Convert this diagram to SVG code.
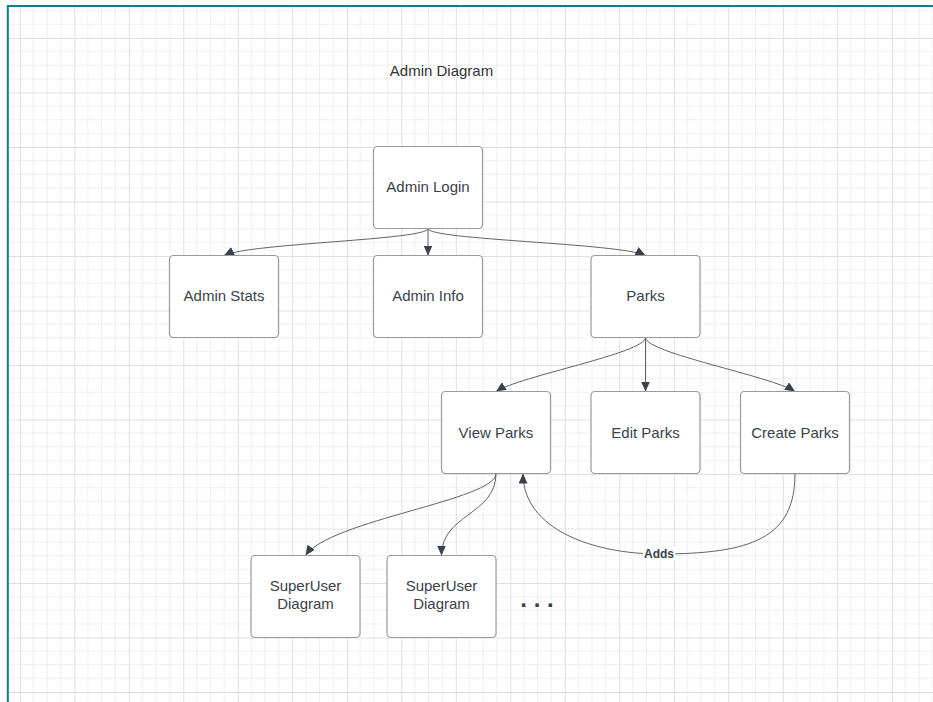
<svg xmlns="http://www.w3.org/2000/svg" width="933" height="702" viewBox="0 0 933 702">
  <defs>
    <pattern id="grid" patternUnits="userSpaceOnUse" x="19.8" y="-16.5" width="54.5" height="54.5">
      <path d="M13.625 0V54.5M27.25 0V54.5M40.875 0V54.5M0 13.625H54.5M0 27.25H54.5M0 40.875H54.5" stroke="#efefef" stroke-width="1" fill="none"/>
      <path d="M0.5 0V54.5M0 0.5H54.5" stroke="#e0e0e0" stroke-width="1" fill="none"/>
    </pattern>
    <marker id="arrow" markerUnits="userSpaceOnUse" markerWidth="12" markerHeight="10" refX="10" refY="4.5" orient="auto">
      <path d="M0,0 L10,4.5 L0,9 z" fill="#3a414a"/>
    </marker>
    <style>
      .box { fill: #ffffff; stroke: #9a9a9a; stroke-width: 1.2; }
      .lbl { font-family: "Liberation Sans", Arial, sans-serif; font-size: 15px; fill: #3a414a; text-anchor: middle; }
      .conn { fill: none; stroke: #5f6368; stroke-width: 1; marker-end: url(#arrow); }
    </style>
  </defs>
  <rect x="0" y="0" width="933" height="702" fill="#ffffff"/>
  <rect x="8" y="6" width="925" height="696" fill="url(#grid)"/>
  <path d="M7.8 702V6H933" fill="none" stroke="#0d7f8c" stroke-width="2"/>

  <text id="title" x="441.5" y="75.5" class="lbl" style="fill:#333333">Admin Diagram</text>

  <g id="connectors">
    <path class="conn" d="M428,228.5 C428,240 250,243 224,255.5"/>
    <path class="conn" d="M428,228.5 L428,255.5"/>
    <path class="conn" d="M428,228.5 C428,240 620,243 645.5,255.5"/>
    <path class="conn" d="M645.5,337.5 C645.5,353 520,376 496,391.5"/>
    <path class="conn" d="M645.5,337.5 L645.5,391.5"/>
    <path class="conn" d="M645.5,337.5 C645.5,353 771,376 795,391.5"/>
    <path class="conn" d="M496,473.5 C496,500 330,520 305.5,555.5"/>
    <path class="conn" d="M496,473.5 C496,515 441.5,514 441.5,555.5"/>
    <path class="conn" d="M795,473.5 C795,538 752,554 659,554 C595,554 523,530 523,473.5"/>
    <g id="adds-label">
      <rect x="643" y="547" width="32" height="13" fill="#ffffff"/>
      <text x="659" y="557.5" style="font-family:'Liberation Sans',Arial,sans-serif;font-size:12px;font-weight:bold;fill:#3a414a;text-anchor:middle">Adds</text>
    </g>
  </g>

  <g id="admin-login">
    <rect class="box" x="373.5" y="146.5" width="109" height="82" rx="4"/>
    <text class="lbl" x="428" y="192">Admin Login</text>
  </g>
  <g id="admin-stats">
    <rect class="box" x="169.5" y="255.5" width="109" height="82" rx="4"/>
    <text class="lbl" x="224" y="301">Admin Stats</text>
  </g>
  <g id="admin-info">
    <rect class="box" x="373.5" y="255.5" width="109" height="82" rx="4"/>
    <text class="lbl" x="428" y="301">Admin Info</text>
  </g>
  <g id="parks">
    <rect class="box" x="591" y="255.5" width="109" height="82" rx="4"/>
    <text class="lbl" x="645.5" y="301">Parks</text>
  </g>
  <g id="view-parks">
    <rect class="box" x="441.5" y="391.5" width="109" height="82" rx="4"/>
    <text class="lbl" x="496" y="437.5">View Parks</text>
  </g>
  <g id="edit-parks">
    <rect class="box" x="591" y="391.5" width="109" height="82" rx="4"/>
    <text class="lbl" x="645.5" y="437.5">Edit Parks</text>
  </g>
  <g id="create-parks">
    <rect class="box" x="740.5" y="391.5" width="109" height="82" rx="4"/>
    <text class="lbl" x="795" y="437.5">Create Parks</text>
  </g>
  <g id="superuser-1">
    <rect class="box" x="251" y="555.5" width="109" height="82" rx="4"/>
    <text class="lbl" x="305.5" y="590.5">SuperUser</text>
    <text class="lbl" x="305.5" y="608.5">Diagram</text>
  </g>
  <g id="superuser-2">
    <rect class="box" x="387" y="555.5" width="109" height="82" rx="4"/>
    <text class="lbl" x="441.5" y="590.5">SuperUser</text>
    <text class="lbl" x="441.5" y="608.5">Diagram</text>
  </g>
  <g id="ellipsis">
    <text x="537" y="607" style="font-family:'Liberation Sans',Arial,sans-serif;font-size:24px;font-weight:bold;fill:#3a414a;text-anchor:middle">. . .</text>
  </g>
</svg>
